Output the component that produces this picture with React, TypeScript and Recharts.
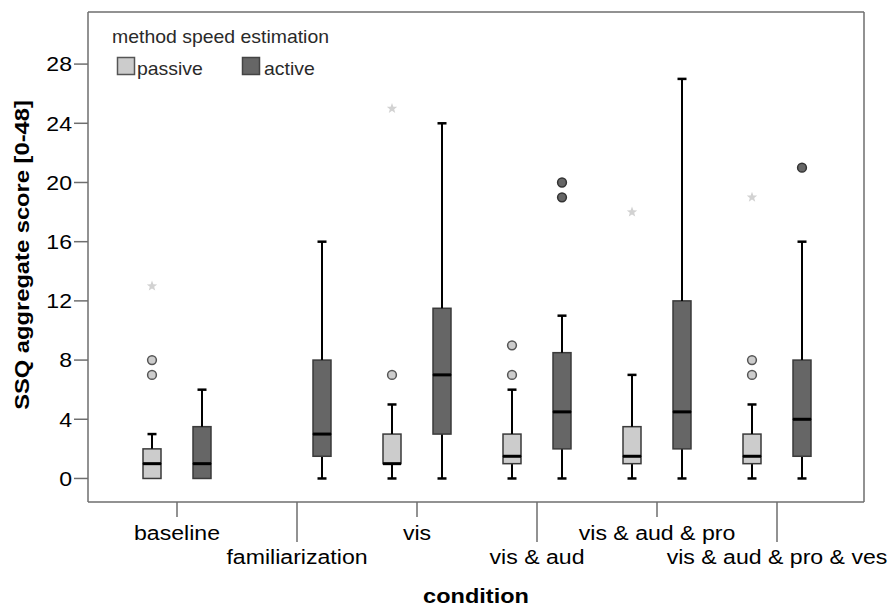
import React from 'react';
import { ComposedChart, Bar, Line, XAxis, YAxis, Legend } from 'recharts';

// Conditions along the x axis
const categories = [
  'baseline',
  'familiarization',
  'vis',
  'vis & aud',
  'vis & aud & pro',
  'vis & aud & pro & ves',
];

// Passive speed estimation: five-number summaries (no passive group in familiarization)
const passiveMin = [0, null, 0, 0, 0, 0];
const passiveQ1 = [0, null, 1, 1, 1, 1];
const passiveMedian = [1, null, 1, 1.5, 1.5, 1.5];
const passiveQ3 = [2, null, 3, 3, 3.5, 3];
const passiveMax = [3, null, 5, 6, 7, 5];
// Passive outliers (circles) and extreme values (stars)
const passiveOutlierA = [7, null, 7, 7, null, 7];
const passiveOutlierB = [8, null, null, 9, null, 8];
const passiveExtreme = [13, null, 25, null, 18, 19];

// Active speed estimation: five-number summaries
const activeMin = [0, 0, 0, 0, 0, 0];
const activeQ1 = [0, 1.5, 3, 2, 2, 1.5];
const activeMedian = [1, 3, 7, 4.5, 4.5, 4];
const activeQ3 = [3.5, 8, 11.5, 8.5, 12, 8];
const activeMax = [6, 16, 24, 11, 27, 16];
// Active outliers
const activeOutlierA = [null, null, null, 19, null, 21];
const activeOutlierB = [null, null, null, 20, null, null];

// Y axis
const yTicks = [0, 4, 8, 12, 16, 20, 24, 28];
const yDomain = [-1.59, 31.52];

const legendTitle = 'method speed estimation';
const passiveName = 'passive';
const activeName = 'active';
const xTitle = 'condition';
const yTitle = 'SSQ aggregate score [0-48]';

// Styling
const PASSIVE_FILL = '#cccccc';
const ACTIVE_FILL = '#666666';
const BOX_STROKE = '#3a3a3a';
const AXIS_COLOR = '#6e6e6e';
const FONT = '"Liberation Sans", Arial, Helvetica, sans-serif';
const STRETCH = 1.1;
const BAR_SIZE = 18;
const BAR_GAP = 32;
const BOX_OFFSET = (BAR_SIZE + BAR_GAP) / 2;
const X_PADDING = { left: 29, right: 27 };

const diff = (a: number | null, b: number | null) =>
  a == null || b == null ? null : a - b;

const rows = categories.map((cond, i) => ({
  cond,
  pBase: passiveMin[i],
  pLowWhisker: diff(passiveQ1[i], passiveMin[i]),
  pLowBox: diff(passiveMedian[i], passiveQ1[i]),
  pHighBox: diff(passiveQ3[i], passiveMedian[i]),
  pHighWhisker: diff(passiveMax[i], passiveQ3[i]),
  aBase: activeMin[i],
  aLowWhisker: diff(activeQ1[i], activeMin[i]),
  aLowBox: diff(activeMedian[i], activeQ1[i]),
  aHighBox: diff(activeQ3[i], activeMedian[i]),
  aHighWhisker: diff(activeMax[i], activeQ3[i]),
  pOutA: passiveOutlierA[i],
  pOutB: passiveOutlierB[i],
  pExt: passiveExtreme[i],
  aOutA: activeOutlierA[i],
  aOutB: activeOutlierB[i],
}));

// ---- Box-plot pieces drawn as stacked bar segments ----
const Empty = () => <g />;

const isMissing = (props: any, key: string) =>
  !props.payload || props.payload[key] == null;

const lowWhisker = (key: string) => (props: any) => {
  const { x, y, width, height } = props;
  if (isMissing(props, key) || !height || height < 0.5) return <g />;
  const cx = x + width / 2;
  const yb = y + height;
  return (
    <g>
      <line x1={cx} x2={cx} y1={y} y2={yb} stroke="#000" strokeWidth={2} />
      <line x1={cx - 4.5} x2={cx + 4.5} y1={yb} y2={yb} stroke="#000" strokeWidth={2.5} />
    </g>
  );
};

const highWhisker = (key: string) => (props: any) => {
  const { x, y, width, height } = props;
  if (isMissing(props, key) || !height || height < 0.5) return <g />;
  const cx = x + width / 2;
  return (
    <g>
      <line x1={cx} x2={cx} y1={y} y2={y + height} stroke="#000" strokeWidth={2} />
      <line x1={cx - 4.5} x2={cx + 4.5} y1={y} y2={y} stroke="#000" strokeWidth={2.5} />
    </g>
  );
};

const makeBox = (key: string, fill: string, withMedian: boolean) => (props: any) => {
  const { x, y, width, height } = props;
  if (isMissing(props, key) || height == null || isNaN(height)) return <g />;
  if (height < 0.5 && !withMedian) return <g />;
  return (
    <g>
      {height >= 0.5 && (
        <rect
          x={x}
          y={y}
          width={width}
          height={height}
          fill={fill}
          stroke={BOX_STROKE}
          strokeWidth={1.5}
        />
      )}
      {withMedian && (
        <line
          x1={x}
          x2={x + width}
          y1={y + height}
          y2={y + height}
          stroke="#000"
          strokeWidth={3}
        />
      )}
    </g>
  );
};

// ---- Outlier markers ----
const circleDot = (fill: string, stroke: string, offset: number) => (props: any) => {
  const { cx, cy, index } = props;
  if (cy == null || isNaN(cy) || cx == null) return <g key={`c${index}`} />;
  return (
    <circle
      key={`c${index}`}
      cx={cx + offset}
      cy={cy}
      r={4.4}
      fill={fill}
      stroke={stroke}
      strokeWidth={1.5}
    />
  );
};

const starDot = (offset: number) => (props: any) => {
  const { cx, cy, index } = props;
  if (cy == null || isNaN(cy) || cx == null) return <g key={`s${index}`} />;
  const pts: string[] = [];
  for (let k = 0; k < 10; k++) {
    const r = k % 2 === 0 ? 5.5 : 2.3;
    const a = -Math.PI / 2 + (k * Math.PI) / 5;
    pts.push(`${cx + offset + r * Math.cos(a)},${cy + r * Math.sin(a)}`);
  }
  return <polygon key={`s${index}`} points={pts.join(' ')} fill="#d2d2d2" />;
};

// ---- Axis ticks ----
const YTick = (props: any) => {
  const { x, y, payload } = props;
  return (
    <text
      transform={`translate(${x},${y}) scale(${STRETCH},1)`}
      x={0}
      y={0}
      dy="0.35em"
      textAnchor="end"
      fontFamily={FONT}
      fontSize={21}
      fill="#000"
    >
      {payload.value}
    </text>
  );
};

const XTick = (props: any) => {
  const { x, y, payload } = props;
  const idx = categories.indexOf(payload.value);
  const lower = idx % 2 === 1;
  const len = lower ? 40 : 15;
  const baseY = y + (lower ? 62 : 38);
  return (
    <g>
      <line x1={x} x2={x} y1={y} y2={y + len} stroke={AXIS_COLOR} strokeWidth={1.5} />
      <text
        transform={`translate(${x},${baseY}) scale(${STRETCH},1)`}
        x={0}
        y={0}
        textAnchor="middle"
        fontFamily={FONT}
        fontSize={21}
        fill="#000"
      >
        {payload.value}
      </text>
    </g>
  );
};

const XTitle = (props: any) => {
  const vb = props.viewBox || { x: 88, width: 776, y: 502 };
  const cx = vb.x + vb.width / 2;
  return (
    <text
      transform={`translate(${cx},603) scale(1.12,1)`}
      x={0}
      y={0}
      textAnchor="middle"
      fontFamily={FONT}
      fontSize={21}
      fontWeight="bold"
      fill="#000"
    >
      {xTitle}
    </text>
  );
};

const YTitle = () => (
  <text
    transform={`translate(29,255) rotate(-90) scale(1.13,1)`}
    x={0}
    y={0}
    textAnchor="middle"
    fontFamily={FONT}
    fontSize={21}
    fontWeight="bold"
    fill="#000"
  >
    {yTitle}
  </text>
);

const LegendContent = () => (
  <svg width={260} height={72} style={{ display: 'block', overflow: 'visible' }}>
    <text
      transform={`translate(12,33) scale(1.08,1)`}
      fontFamily={FONT}
      fontSize={18}
      fill="#2a2a2a"
    >
      {legendTitle}
    </text>
    <rect x={17.5} y={47.5} width={17} height={17} fill={PASSIVE_FILL} stroke="#555" strokeWidth={1.5} />
    <text
      transform={`translate(37,65) scale(1.08,1)`}
      fontFamily={FONT}
      fontSize={18}
      fill="#2a2a2a"
    >
      {passiveName}
    </text>
    <rect x={142.5} y={47.5} width={17} height={17} fill={ACTIVE_FILL} stroke="#444" strokeWidth={1.5} />
    <text
      transform={`translate(164,65) scale(1.08,1)`}
      fontFamily={FONT}
      fontSize={18}
      fill="#2a2a2a"
    >
      {activeName}
    </text>
  </svg>
);

export default function App() {
  return (
    <div style={{ position: 'absolute', left: 0, top: 0, width: 890, height: 608, background: '#fff' }}>
      <ComposedChart
        width={890}
        height={608}
        data={rows}
        margin={{ top: 11, right: 25, bottom: 46, left: 0 }}
        barSize={BAR_SIZE}
        barGap={BAR_GAP}
      >
        <XAxis
          dataKey="cond"
          type="category"
          height={60}
          padding={X_PADDING}
          interval={0}
          tickSize={0}
          tickMargin={0}
          tickLine={false}
          axisLine={{ stroke: AXIS_COLOR, strokeWidth: 1.5 }}
          tick={<XTick />}
          label={{ content: <XTitle /> }}
        />
        {/* frame: top edge */}
        <XAxis
          xAxisId="top"
          dataKey="cond"
          type="category"
          orientation="top"
          height={1}
          padding={X_PADDING}
          tick={false}
          tickLine={false}
          axisLine={{ stroke: AXIS_COLOR, strokeWidth: 1.5 }}
        />
        <YAxis
          type="number"
          domain={yDomain}
          ticks={yTicks}
          allowDataOverflow
          width={88}
          tickSize={14}
          tickMargin={2}
          tickLine={{ stroke: AXIS_COLOR, strokeWidth: 1.5 }}
          axisLine={{ stroke: AXIS_COLOR, strokeWidth: 1.5 }}
          tick={<YTick />}
          label={{ content: <YTitle /> }}
        />
        {/* frame: right edge */}
        <YAxis
          yAxisId="right"
          orientation="right"
          type="number"
          domain={yDomain}
          allowDataOverflow
          width={1}
          tick={false}
          tickLine={false}
          axisLine={{ stroke: AXIS_COLOR, strokeWidth: 1.5 }}
        />
        <Legend
          layout="horizontal"
          verticalAlign="middle"
          align="center"
          width={260}
          wrapperStyle={{ left: 100, top: 10, width: 260, height: 72 }}
          content={<LegendContent />}
        />

        {/* passive boxes */}
        <Bar dataKey="pBase" stackId="p" shape={<Empty />} isAnimationActive={false} legendType="none" />
        <Bar dataKey="pLowWhisker" stackId="p" shape={lowWhisker('pLowWhisker')} isAnimationActive={false} legendType="none" />
        <Bar dataKey="pLowBox" stackId="p" shape={makeBox('pLowBox', PASSIVE_FILL, false)} isAnimationActive={false} legendType="none" />
        <Bar dataKey="pHighBox" stackId="p" shape={makeBox('pHighBox', PASSIVE_FILL, true)} isAnimationActive={false} legendType="none" />
        <Bar dataKey="pHighWhisker" stackId="p" shape={highWhisker('pHighWhisker')} isAnimationActive={false} legendType="none" />

        {/* active boxes */}
        <Bar dataKey="aBase" stackId="a" shape={<Empty />} isAnimationActive={false} legendType="none" />
        <Bar dataKey="aLowWhisker" stackId="a" shape={lowWhisker('aLowWhisker')} isAnimationActive={false} legendType="none" />
        <Bar dataKey="aLowBox" stackId="a" shape={makeBox('aLowBox', ACTIVE_FILL, false)} isAnimationActive={false} legendType="none" />
        <Bar dataKey="aHighBox" stackId="a" shape={makeBox('aHighBox', ACTIVE_FILL, true)} isAnimationActive={false} legendType="none" />
        <Bar dataKey="aHighWhisker" stackId="a" shape={highWhisker('aHighWhisker')} isAnimationActive={false} legendType="none" />

        {/* outliers and extremes */}
        <Line dataKey="pOutA" stroke="none" dot={circleDot(PASSIVE_FILL, '#555', -BOX_OFFSET)} activeDot={false} isAnimationActive={false} legendType="none" />
        <Line dataKey="pOutB" stroke="none" dot={circleDot(PASSIVE_FILL, '#555', -BOX_OFFSET)} activeDot={false} isAnimationActive={false} legendType="none" />
        <Line xAxisId="top" yAxisId="right" dataKey="pExt" stroke="none" dot={starDot(-BOX_OFFSET)} activeDot={false} isAnimationActive={false} legendType="none" />
        <Line dataKey="aOutA" stroke="none" dot={circleDot(ACTIVE_FILL, '#333', BOX_OFFSET)} activeDot={false} isAnimationActive={false} legendType="none" />
        <Line dataKey="aOutB" stroke="none" dot={circleDot(ACTIVE_FILL, '#333', BOX_OFFSET)} activeDot={false} isAnimationActive={false} legendType="none" />
      </ComposedChart>
    </div>
  );
}
